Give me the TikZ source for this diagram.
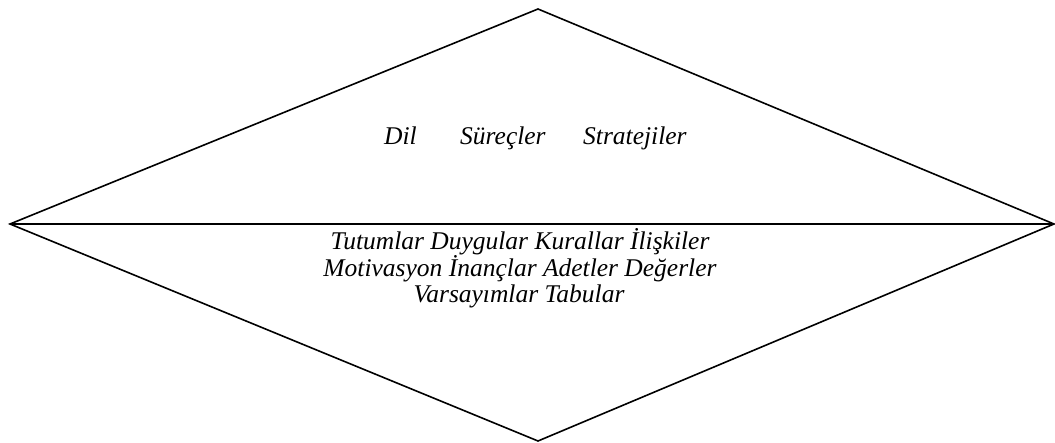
\documentclass[tikz,border=0pt]{standalone}
\usepackage{fontspec}
\setmainfont{Liberation Serif}
\begin{document}
\begin{tikzpicture}[x=1pt,y=1pt,
  edge/.style={line width=1.6pt, line join=miter},
  word/.style={font=\fontsize{25.5}{27}\selectfont\itshape, inner sep=0pt, anchor=base west},
  block/.style={font=\fontsize{25.5}{27}\selectfont\itshape, inner sep=0pt, align=center, anchor=base}]
  \useasboundingbox (0,0) rectangle (1055,442);
  % diamond corners
  \coordinate (top) at (538,433);
  \coordinate (left) at (10,218);
  \coordinate (right) at (1054,218);
  \coordinate (bottom) at (538,1);
  \draw[edge] (top) -- (right) -- (bottom) -- (left) -- cycle;
  \draw[edge] (left) -- (right);
  % upper half
  \node[word] (dil) at (384,297) {Dil};
  \node[word] (surec) at (460,297) {Süreçler};
  \node[word] (strat) at (583,297) {Stratejiler};
  % lower half
  \node[block] (l1) at (520,192) {Tutumlar Duygular Kurallar İlişkiler};
  \node[block] (l2) at (520,165) {Motivasyon İnançlar Adetler Değerler};
  \node[block] (l3) at (519,139) {Varsayımlar Tabular};
\end{tikzpicture}
\end{document}
